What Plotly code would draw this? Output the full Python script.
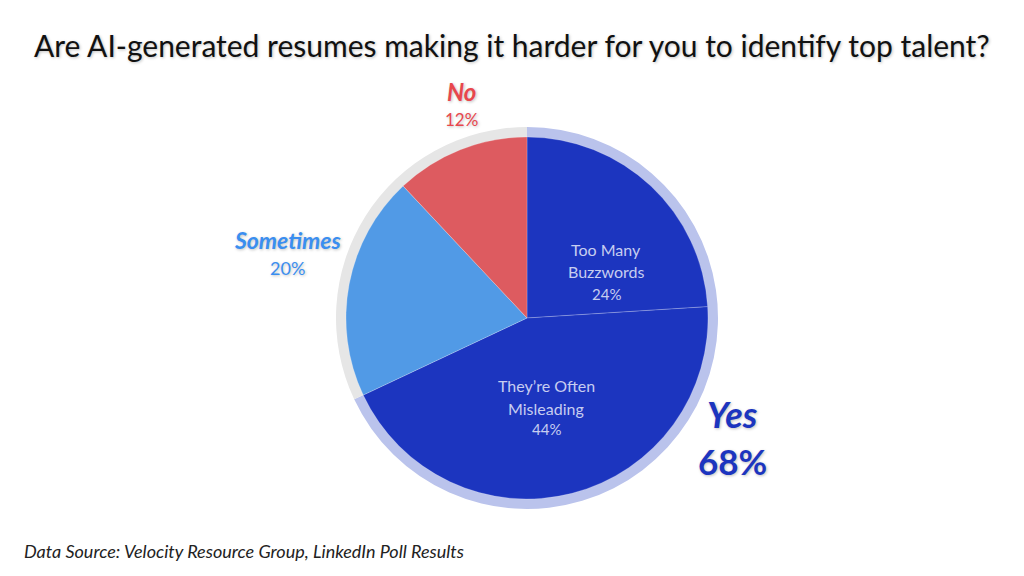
import plotly.graph_objects as go

# inner pie: answer breakdown
inner_labels = ["Too Many Buzzwords", "They're Often Misleading", "Sometimes", "No"]
inner_values = [24, 44, 20, 12]
inner_colors = ["#1c35bf", "#1c35bf", "#519ae6", "#dd5b60"]

# outer ring: yes vs everything else
outer_labels = ["Yes", "Other"]
outer_values = [68, 32]
outer_colors = ["#bac3ec", "#e6e6e6"]

W, H = 1024, 576
OFF = 8  # page body margin
cx, cy = 527 - OFF, 318 - OFF
r_out, r_in = 191, 181


def dom(r):
    return dict(x=[(cx - r) / W, (cx + r) / W],
                y=[(H - cy - r) / H, (H - cy + r) / H])


fig = go.Figure()
fig.add_trace(go.Pie(
    labels=outer_labels, values=outer_values, sort=False,
    direction="clockwise", rotation=0, hole=r_in / r_out - 0.01,
    marker=dict(colors=outer_colors, line=dict(width=0)),
    textinfo="none", hoverinfo="skip", domain=dom(r_out), showlegend=False,
))
fig.add_trace(go.Pie(
    labels=inner_labels, values=inner_values, sort=False,
    direction="clockwise", rotation=0,
    marker=dict(colors=inner_colors, line=dict(width=0.6, color="rgba(255,255,255,0.35)")),
    textinfo="none", hoverinfo="label+percent", domain=dom(r_in), showlegend=False,
))

shadow = "1px 1px 3px rgba(0,0,0,0.25)"


def note(x, y, text, size, color, italic=False, bold=False, shadowed=True, xanchor="center"):
    fig.add_annotation(
        x=(x - OFF) / W, y=1 - (y - OFF) / H, xref="paper", yref="paper", text=text,
        showarrow=False, xanchor=xanchor, yanchor="middle",
        font=dict(family="Lato", size=size, color=color,
                  style="italic" if italic else "normal",
                  weight="bold" if bold else "normal",
                  shadow=shadow if shadowed else "none"),
    )


inside = "#c7cdf0"
# inside labels
note(606, 250, "Too Many", 16, inside, shadowed=False)
note(606, 272, "Buzzwords", 16, inside, shadowed=False)
note(606, 294, f"{inner_values[0]}%", 15, inside, shadowed=False)
note(546, 385, "They\u2019re Often", 16, inside, shadowed=False)
note(546, 408, "Misleading", 16, inside, shadowed=False)
note(546, 429, f"{inner_values[1]}%", 15, inside, shadowed=False)

# outside labels
note(461, 91, "No", 24, "#e8474d", italic=True, bold=True)
note(461, 119, f"{inner_values[3]}%", 17, "#e8474d")
note(287, 240, "Sometimes", 23, "#3a8ef0", italic=True, bold=True)
note(287, 268, f"{inner_values[2]}%", 18, "#3a8ef0")
note(732, 414, "Yes", 36, "#1c35bf", italic=True, bold=True)
note(732, 461, f"{outer_values[0]}%", 35, "#1c35bf", bold=True)

# title and source
note(512, 45, "Are AI-generated resumes making it harder for you to identify top talent?",
     30, "#111111")
note(22, 551, "Data Source: Velocity Resource Group, LinkedIn Poll Results",
     18, "#222222", italic=True, shadowed=False, xanchor="left")

fig.update_layout(
    width=W, height=H, margin=dict(l=0, r=0, t=0, b=0),
    paper_bgcolor="white", plot_bgcolor="white",
    font=dict(family="Lato"),
)

fig.write_html("out.html")
